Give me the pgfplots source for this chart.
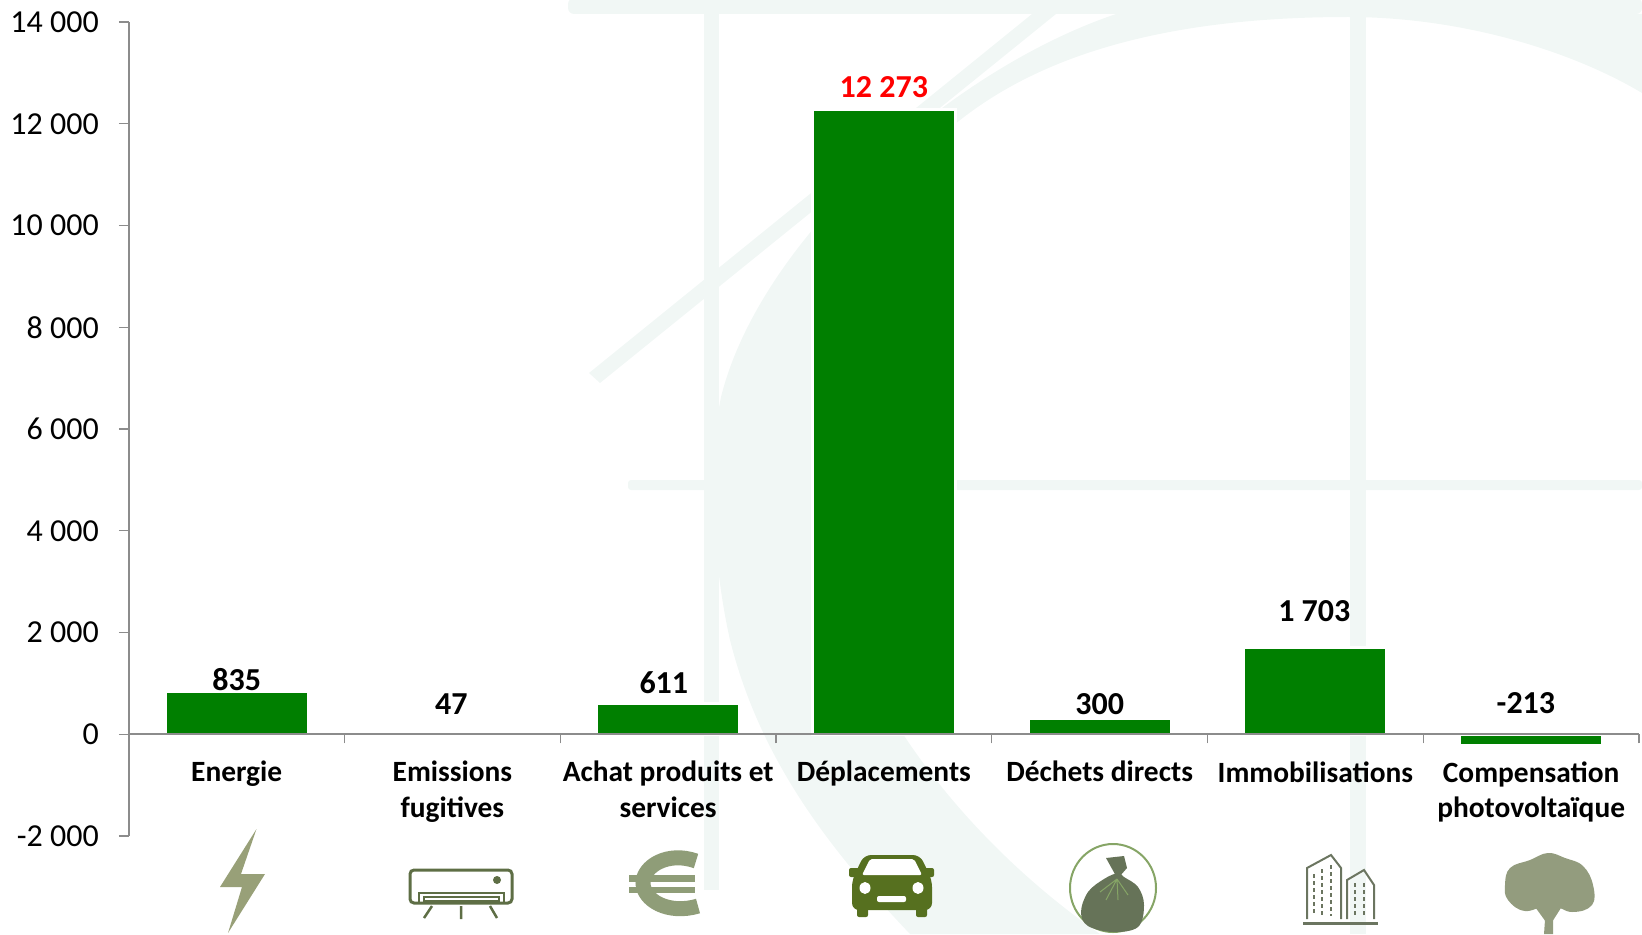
\documentclass[border=0pt]{standalone}
\usepackage{pgfplots}
\pgfplotsset{compat=1.18}
\usepackage{fontspec}
\setmainfont{Carlito}
\definecolor{wm}{HTML}{F1F7F5}
\definecolor{barg}{HTML}{007F00}
\definecolor{axg}{HTML}{8C8C8C}
\definecolor{icA}{HTML}{98A078}
\definecolor{icB}{HTML}{5E6E45}
\definecolor{icC}{HTML}{8F9D78}
\definecolor{icD}{HTML}{56701F}
\definecolor{icE}{HTML}{667358}
\definecolor{icF}{HTML}{6B7560}
\definecolor{icG}{HTML}{939C7E}
\definecolor{icH}{HTML}{86A566}
\begin{document}
\begin{tikzpicture}
\path[use as bounding box] (0,0) rectangle (821pt,467pt);
\begin{scope}[shift={(0,467pt)},x=0.5pt,y=-0.5pt]
 % watermark
 \fill[wm,rounded corners=3pt] (568,-2) -- (1642,-2) -- (1642,14) -- (568,14) -- cycle;
 \fill[wm] (704,14) rectangle (719,890);
 \fill[wm] (1350,14) rectangle (1366,934);
 \fill[wm,rounded corners=1.5pt] (628,480) rectangle (1642,490);
 \fill[wm] (1032,14) -- (1056,14) -- (600,383) -- (589,373) -- cycle;
 \fill[wm] (1116,14) .. controls (950,70) and (760,240) .. (721,397)
   .. controls (708,460) and (712,560) .. (730,640)
   .. controls (760,760) and (830,850) .. (910,934)
   -- (1100,934)
   .. controls (950,830) and (810,650) .. (812,450)
   .. controls (830,190) and (960,17) .. (1348,17)
   .. controls (1460,17) and (1570,50) .. (1642,93)
   -- (1642,14) -- cycle;
 % lightning
 \fill[icA] (256.5,829) -- (220,887) -- (242,887) -- (228,933) -- (265,874) -- (241,874) -- cycle;
 % air conditioner
 \draw[icB,line width=1.5pt,rounded corners=2pt] (410,870) rectangle (512,903);
 \draw[icB,line width=1.25pt] (419,903) -- (419,893) -- (504,893) -- (504,903);
 \draw[icB,line width=1pt] (424,897) rectangle (499,901);
 \fill[icB] (497,880) circle (4);
 \draw[icB,line width=1.25pt] (432,906) -- (424,918) (461,906) -- (461,919) (490,906) -- (497,918);
 % euro
 \draw[icC,line width=7.5pt] (696,861) .. controls (668,851) and (643,866) .. (643,883) .. controls (643,900) and (668,915) .. (698,906);
 \fill[icC] (629,875) rectangle (695,882);
 \fill[icC] (629,887) rectangle (695,893);
 % car
 \fill[icD,rounded corners=3.5pt] (852,880) -- (864,855) -- (920,855) -- (932,880) -- (932,910) -- (852,910) -- cycle;
 \fill[icD,rounded corners=1pt] (857,905) rectangle (868,917);
 \fill[icD,rounded corners=1pt] (916,905) rectangle (927,917);
 \fill[icD,rounded corners=1pt] (849,868) rectangle (860,877);
 \fill[icD,rounded corners=1pt] (924,868) rectangle (934,877);
 \fill[white,rounded corners=1pt] (862,875) -- (870,859) -- (914,859) -- (922,875) -- cycle;
 \fill[white] (865,888) ellipse (5.5 and 6);
 \fill[white] (918,888) ellipse (5.5 and 6);
 \fill[white,rounded corners=1pt] (877,896) rectangle (906,902);
 % bag
 \draw[icH,line width=1pt] (1113,888) ellipse (43 and 44);
 \fill[icE] plot[smooth cycle,tension=0.6] coordinates {(1118,873) (1104,879) (1088,892) (1081,912) (1088,926) (1113,932) (1138,927) (1144,905) (1138,887) (1124,877)};
 \fill[icE] (1106,858) -- (1124,856) -- (1127,868) -- (1120,876) -- (1116,876) -- cycle;
 \draw[icH,line width=0.5pt] (1117,879) -- (1100,892) (1117,879) -- (1106,900) (1117,879) -- (1118,900) (1117,879) -- (1128,895);
 % buildings
 \begin{scope}[icF,line width=1pt]
  \draw (1307,919) -- (1307,868) -- (1331,855) -- (1341,868) -- (1341,919);
  \draw (1347,919) -- (1347,880) -- (1364,870) -- (1374,885) -- (1374,919);
  \draw[line width=1.5pt,rounded corners=1pt] (1303,923) -- (1378,923);
  \draw[line width=0.75pt,dash pattern=on 2pt off 1.5pt] (1314,874) -- (1314,916);
  \draw[line width=0.75pt,dash pattern=on 2pt off 1.5pt] (1322,869) -- (1322,916);
  \draw[line width=0.75pt,dash pattern=on 2pt off 1.5pt] (1331,865) -- (1331,916);
  \draw[line width=0.75pt,dash pattern=on 2pt off 1.5pt] (1355,883) -- (1355,916);
  \draw[line width=0.75pt,dash pattern=on 2pt off 1.5pt] (1364,883) -- (1364,916);
 \end{scope}
 % tree
 \fill[icG] (1546,905) -- (1553,905) -- (1553,934) -- (1544,934) -- cycle;
 \fill[icG] (1530,900) -- (1546,922) -- (1552,922) -- (1566,900) -- cycle;
 \fill[icG] plot[smooth cycle,tension=0.7] coordinates {(1548,853) (1565,858) (1583,866) (1593,885) (1592,905) (1572,912) (1550,905) (1525,911) (1508,900) (1505,885) (1510,868) (1530,860)};
\end{scope}
\begin{axis}[
  at={(64.4pt,49pt)}, anchor=south west,
  scale only axis, width=755.1pt, height=407pt,
  xmin=-0.5, xmax=6.5, ymin=-2000, ymax=14000,
  axis x line=middle, axis y line=left,
  axis line style={axg,line width=0.95pt,-},
  axis on top,
  xtick={0,...,6},
  xticklabels={Energie,{Emissions\\fugitives},{Achat produits et\\services},D\'eplacements,D\'echets directs,Immobilisations,{Compensation\\photovolta\"ique}},
  minor xtick={0.5,1.5,2.5,3.5,4.5,5.5,6.5},
  major x tick style={draw=none},
  minor x tick style={axg,line width=0.6pt},
  xtick align=outside, ytick align=outside,
  minor tick length=4.5pt,
  major tick length=5pt,
  ytick={-2000,0,...,14000},
  yticklabels={-2 000,0,2 000,4 000,6 000,8 000,10 000,12 000,14 000},
  y tick style={axg,line width=0.6pt},
  y tick label style={font=\fontsize{16}{18}\selectfont, anchor=east, xshift=-6.5pt},
  x tick label style={font=\fontsize{14.7}{17.8}\selectfont\bfseries, align=center, anchor=north, yshift=-5pt},
  ybar, bar width=71.5pt, bar shift=0pt,
  clip=false,
]
\addplot[draw=white,line width=1.5pt,fill=barg] coordinates {(0,835) (1,47) (2,611) (3,12273) (4,300) (5,1703) (6,-213)};
\begin{scope}[every node/.style={font=\fontsize{16}{18}\selectfont\bfseries,inner sep=0pt}]
\node at (axis cs:0,1075) {835};
\node at (axis cs:0.995,600) {47};
\node at (axis cs:1.98,1013) {611};
\node[text=red] at (axis cs:3,12720) {12 273};
\node at (axis cs:4,600) {300};
\node at (axis cs:4.995,2412) {1 703};
\node at (axis cs:5.976,620) {-213};
\end{scope}
\end{axis}
\end{tikzpicture}
\end{document}
